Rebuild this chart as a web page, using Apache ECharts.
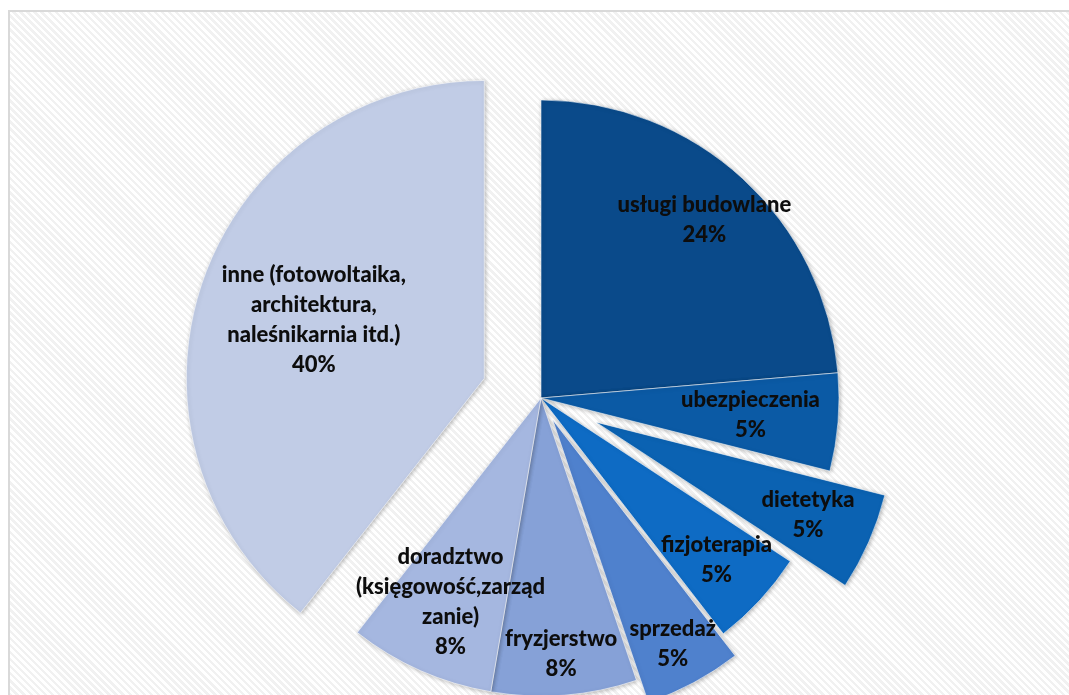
<!DOCTYPE html>
<html><head><meta charset="utf-8">
<script src="https://cdn.jsdelivr.net/npm/echarts@6/dist/echarts.min.js"></script>
<style>
html,body{margin:0;padding:0;background:#fff;}
#wrap{position:relative;width:1069px;height:695px;overflow:hidden;background:#fff;}
#frame{position:absolute;left:8px;top:10px;width:1100px;height:720px;border:2px solid #d9d9d9;box-sizing:border-box;
  background:repeating-linear-gradient(45deg,#ffffff 0px,#ffffff 2.5px,#f1f1f1 2.5px,#f1f1f1 5px);}
#chart{position:absolute;left:0;top:0;width:1069px;height:695px;}
</style></head><body>
<div id="wrap"><div id="frame"></div><div id="chart"></div></div>
<script>
// ---- data ----
const categories = [
  'usługi budowlane',
  'ubezpieczenia',
  'dietetyka',
  'fizjoterapia',
  'sprzedaż',
  'fryzjerstwo',
  'doradztwo\n(księgowość,zarząd\nzanie)',
  'inne (fotowoltaika,\narchitektura,\nnaleśnikarnia itd.)'
];
const values = [23.7, 5.3, 5.3, 5.3, 5.3, 7.9, 7.9, 39.5];

// ---- style / layout ----
const colors = ['#0A4A8A', '#0B5AA5', '#0B62B2', '#0E6BC4', '#4F81CD', '#86A1D7', '#A5B7E0', '#C1CCE6'];
const explodeOffset = [0, 0, 60, 0, 25, 0, 0, 60];
const labelRadiusFrac = [0.80, 0.695, 0.767, 0.792, 0.841, 0.851, 0.74, 0.595];
const CENTER = [541, 398];
const R = 298;

const total = values.reduce((a, b) => a + b, 0);
let cum = 0;
const labelShift = values.map((v, i) => {
  const mid = (cum + v / 2) / total * 2 * Math.PI;
  cum += v;
  const d = labelRadiusFrac[i] * R - R / 2;
  return [Math.sin(mid) * d, -Math.cos(mid) * d];
});

const chart = echarts.init(document.getElementById('chart'), null, {renderer: 'canvas'});
const series = values.map((_, i) => ({
  type: 'pie',
  center: CENTER,
  radius: [0, R],
  startAngle: 90,
  clockwise: true,
  selectedMode: 'multiple',
  selectedOffset: explodeOffset[i],
  avoidLabelOverlap: false,
  animation: false,
  silent: true,
  emphasis: {disabled: true},
  labelLine: {show: false},
  labelLayout: (p) => p.dataIndex === i ? {dx: labelShift[i][0], dy: labelShift[i][1]} : {},
  data: values.map((v, j) => ({
    name: categories[j],
    value: v,
    selected: j === i && explodeOffset[i] > 0,
    itemStyle: j === i
      ? {color: colors[j], borderColor: 'rgba(255,255,255,0.55)', borderWidth: 1,
         shadowBlur: 4, shadowColor: 'rgba(0,0,0,0.28)', shadowOffsetX: 1, shadowOffsetY: 1}
      : {color: 'rgba(0,0,0,0)', borderWidth: 0},
    select: {itemStyle: j === i ? {color: colors[j]} : {color: 'rgba(0,0,0,0)'}},
    label: j === i ? {
      show: true,
      position: 'inside',
      formatter: (p) => p.name + '\n' + Math.round(p.value) + '%',
      fontFamily: 'Lato',
      fontWeight: 900,
      fontSize: 22,
      lineHeight: 30,
      color: '#0d0d0d',
      align: 'center'
    } : {show: false},
    labelLine: {show: false}
  }))
}));

chart.setOption({
  backgroundColor: 'transparent',
  series: series
});
</script>
</body></html>
